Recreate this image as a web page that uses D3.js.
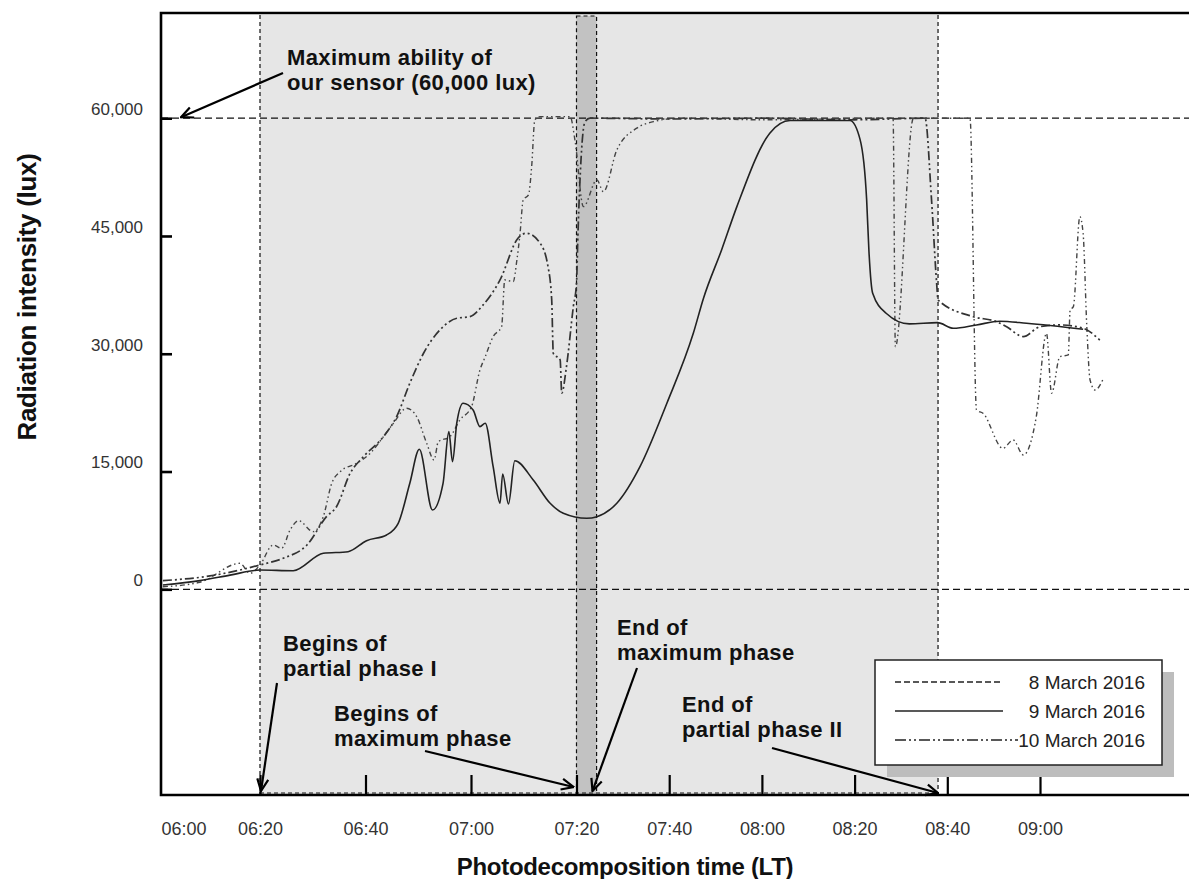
<!DOCTYPE html>
<html>
<head>
<meta charset="utf-8">
<script src="https://cdn.jsdelivr.net/npm/d3@7"></script>
<style>
  html, body { margin: 0; padding: 0; background: #fff; }
  svg { display: block; font-family: "Liberation Sans", Arial, sans-serif; }
</style>
</head>
<body>
<svg id="chart" width="1189" height="879"></svg>
<script>
// ---- Radiation intensity readings (lux), local time ----
const times8 = ["06:01:36","06:08:36","06:16:12","06:18:06","06:20:00","06:22:30","06:24:06","06:25:42","06:27:18","06:30:06","06:32:00","06:33:36","06:35:12","06:38:18","06:40:54","06:43:24","06:45:18","06:47:48","06:49:42","06:51:36","06:53:00","06:53:48","06:56:00","06:57:54","07:00:06","07:01:42","07:02:42","07:04:12","07:05:48","07:06:24","07:08:00","07:08:42","07:09:18","07:09:54","07:10:54","07:11:30","07:12:06","07:13:06","07:18:48","07:19:42","07:21:30","07:24:24","07:25:48","07:28:42","07:33:00","07:36:36","07:42:18","08:00:00","08:28:18","08:28:48","08:32:42","08:44:54","08:46:18","08:47:42","08:52:00","08:54:12","08:56:24","08:59:12","09:01:24","09:02:30","09:04:18","09:06:06","09:06:30","09:07:12","09:08:36","09:09:18","09:10:06","09:10:48","09:11:54","09:13:42"];
const lux8 = [330,900,3310,2040,3100,5640,5220,7550,8740,7340,9250,13500,14980,16050,17330,19440,21150,23060,21990,18600,16470,18800,19440,21570,23260,27940,29630,32180,33450,39400,39190,41950,45350,49600,50230,53840,59780,60200,60200,57240,48740,52140,50650,55960,58730,59570,60000,59800,60000,30900,60000,60000,22840,22420,17960,19020,17110,21990,32610,24970,29630,29850,35580,36000,47470,45350,33450,26660,25390,26880];

const times9 = ["06:01:36","06:08:36","06:14:18","06:20:00","06:26:18","06:32:00","06:36:42","06:40:12","06:44:00","06:46:12","06:48:24","06:50:12","06:52:42","06:54:42","06:55:48","06:56:30","06:57:18","06:58:30","07:00:24","07:01:42","07:02:42","07:04:12","07:05:30","07:06:00","07:07:06","07:08:18","07:11:48","07:15:00","07:17:30","07:22:12","07:24:24","07:28:42","07:33:42","07:39:30","07:45:12","07:47:24","07:51:18","07:54:36","08:01:42","08:06:06","08:19:00","08:21:12","08:22:36","08:23:06","08:23:54","08:26:48","08:31:48","08:37:54","08:41:18","08:46:18","08:51:18","08:57:06","09:09:18"];
const lux9 = [550,1100,1800,2460,2370,4590,4790,6190,6920,8400,13500,17830,10100,13500,20080,16260,21150,23700,22840,20720,21150,15620,10960,14690,10870,16380,13920,10960,9680,9040,9250,10960,15620,23700,32600,37070,43220,48740,58090,59700,59700,57240,49600,43000,37700,35160,33800,33960,33250,33670,34140,33890,33120];

const times10 = ["06:01:36","06:10:30","06:20:00","06:24:24","06:28:54","06:32:36","06:34:30","06:37:06","06:39:36","06:43:24","06:45:54","06:48:24","06:51:00","06:54:06","06:57:18","06:59:48","07:02:18","07:05:30","07:08:54","07:10:30","07:13:06","07:14:36","07:15:18","07:15:36","07:16:54","07:17:12","07:18:06","07:19:24","07:20:00","07:20:18","07:21:00","07:21:48","07:22:54","07:40:00","08:00:00","08:20:00","08:35:12","08:36:36","08:37:42","08:38:00","08:45:36","08:50:36","08:52:48","08:56:24","09:00:00","09:04:18","09:09:18","09:12:54"];
const lux10 = [1100,1700,3100,3950,5640,9250,10520,14780,16890,19440,21990,26240,30060,33030,34520,34720,36220,39400,44710,45350,44080,41100,36850,30060,29210,24970,28360,36000,38980,45000,55000,59500,60000,59900,60000,59800,60000,49600,38980,36850,34720,34090,33450,32180,33450,33670,33250,31750];

// ---- Axis ticks and eclipse phases ----
const xTickLabels = ["06:00","06:20","06:40","07:00","07:20","07:40","08:00","08:20","08:40","09:00"];
const yTickValues = [0, 15000, 30000, 45000, 60000];
const yDomain = [-26200, 73400];
const sensorLimit = 60000;
// partial phase I start, maximum phase start/end, partial phase II end
const phaseTimes = ["06:20:00", "07:20:00", "07:24:20", "08:38:00"];

const parseTime = s => d3.timeParse(s.length > 5 ? "%H:%M:%S" : "%H:%M")(s);

const svg = d3.select("#chart");
const frame = { left: 161, right: 1189, top: 13, bottom: 795 };

// The hour before 07:20 is drawn wider than the rest of the time axis.
const x = d3.scaleTime()
  .domain(["06:20", "07:20", "09:00"].map(parseTime))
  .range([260, 576.5, 1040]);
const y = d3.scaleLinear().domain(yDomain).range([frame.bottom, frame.top]);

const defs = svg.append("defs");
defs.append("clipPath").attr("id", "plot-clip")
  .append("rect")
  .attr("x", frame.left).attr("y", frame.top)
  .attr("width", frame.right - frame.left).attr("height", frame.bottom - frame.top);

defs.append("marker")
  .attr("id", "arrow")
  .attr("viewBox", "0 0 14 14")
  .attr("refX", 13).attr("refY", 7)
  .attr("markerWidth", 14).attr("markerHeight", 14)
  .attr("markerUnits", "userSpaceOnUse")
  .attr("orient", "auto")
  .append("path")
  .attr("d", "M1,1.5 L13,7 L1,12.5")
  .attr("fill", "none").attr("stroke", "#000").attr("stroke-width", 2.2);

// ---- Eclipse phase shading ----
const [pStart, mStart, mEnd, pEnd] = phaseTimes.map(parseTime);
const shade = svg.append("g");
shade.append("rect")
  .attr("x", x(pStart)).attr("y", frame.top + 2)
  .attr("width", x(pEnd) - x(pStart)).attr("height", frame.bottom - frame.top - 2)
  .attr("fill", "#e6e6e6");
shade.append("rect")
  .attr("x", x(mStart)).attr("y", frame.top + 3)
  .attr("width", x(mEnd) - x(mStart)).attr("height", frame.bottom - frame.top - 3)
  .attr("fill", "#c2c2c2")
  .attr("stroke", "#111").attr("stroke-width", 1.2).attr("stroke-dasharray", "4,3");

const boundary = svg.append("g")
  .attr("stroke", "#111").attr("stroke-width", 1.2).attr("stroke-dasharray", "4,3").attr("fill", "none");
[pStart, pEnd].forEach(t => {
  boundary.append("line")
    .attr("x1", x(t)).attr("x2", x(t))
    .attr("y1", frame.top + 2).attr("y2", frame.bottom);
});
boundary.append("line")
  .attr("x1", x(pStart)).attr("x2", x(pEnd))
  .attr("y1", frame.bottom - 2).attr("y2", frame.bottom - 2);

// ---- Zero and sensor-limit reference lines ----
svg.append("g")
  .selectAll("line")
  .data([0, sensorLimit])
  .join("line")
  .attr("x1", frame.left).attr("x2", frame.right)
  .attr("y1", d => y(d)).attr("y2", d => y(d))
  .attr("stroke", "#111").attr("stroke-width", 1.3).attr("stroke-dasharray", "7,4");

// ---- Series ----
const series = [
  { label: "8 March 2016",  times: times8,  lux: lux8,  color: "#444", width: 1.4, dash: "5,3,1.5,3,1.5,3", legendDash: "6,3" },
  { label: "10 March 2016", times: times10, lux: lux10, color: "#333", width: 1.7, dash: "9,3,2,3,2,3", legendDash: "11,3,2,3,2,3" },
  { label: "9 March 2016",  times: times9,  lux: lux9,  color: "#222", width: 1.6, dash: null, legendDash: null }
];

const line = d3.line()
  .x(d => x(d.t))
  .y(d => y(d.v))
  .curve(d3.curveMonotoneX);

const lines = svg.append("g").attr("clip-path", "url(#plot-clip)");
series.forEach(s => {
  const pts = s.times.map((t, i) => ({ t: parseTime(t), v: s.lux[i] }));
  lines.append("path")
    .datum(pts)
    .attr("d", line)
    .attr("fill", "none")
    .attr("stroke", s.color)
    .attr("stroke-width", s.width)
    .attr("stroke-dasharray", s.dash)
    .attr("stroke-linejoin", "round");
});

// ---- Frame ----
svg.append("path")
  .attr("d", `M${frame.right},${frame.top} H${frame.left} V${frame.bottom} H${frame.right}`)
  .attr("fill", "none").attr("stroke", "#000").attr("stroke-width", 2.6);

// ---- Axes ----
const xAxis = d3.axisBottom(x)
  .tickValues(xTickLabels.map(parseTime))
  .tickFormat(d3.timeFormat("%H:%M"))
  .tickSizeInner(-20).tickSizeOuter(0).tickPadding(27);
const gx = svg.append("g")
  .attr("transform", `translate(0,${frame.bottom})`)
  .call(xAxis);
gx.select(".domain").remove();
gx.selectAll(".tick line").attr("stroke", "#000").attr("stroke-width", 2.2);
gx.selectAll(".tick text")
  .attr("font-size", 18).attr("fill", "#333")
  .attr("font-family", "'Liberation Sans', Arial, sans-serif");
// the 06:00 label sits just inside the left axis, where the scale starts
gx.selectAll(".tick")
  .filter(d => x(d) < frame.left)
  .each(function (d) {
    const g = d3.select(this);
    g.select("line").remove();
    g.select("text").attr("text-anchor", "start").attr("x", frame.left - x(d));
  });

const yAxis = d3.axisLeft(y)
  .tickValues(yTickValues)
  .tickFormat(d3.format(","))
  .tickSizeInner(-11).tickSizeOuter(0).tickPadding(18);
const gy = svg.append("g")
  .attr("transform", `translate(${frame.left},0)`)
  .call(yAxis);
gy.select(".domain").remove();
gy.selectAll(".tick line").attr("stroke", "#000").attr("stroke-width", 2.6);
gy.selectAll(".tick text")
  .attr("font-size", 17).attr("fill", "#333").attr("y", -9)
  .attr("font-family", "'Liberation Sans', Arial, sans-serif");

// ---- Axis titles ----
svg.append("text")
  .attr("x", 625).attr("y", 875)
  .attr("text-anchor", "middle")
  .attr("font-size", 24).attr("font-weight", "bold").attr("fill", "#111")
  .attr("letter-spacing", "-0.3")
  .text("Photodecomposition time (LT)");

svg.append("text")
  .attr("transform", "translate(36,297) rotate(-90)")
  .attr("text-anchor", "middle")
  .attr("font-size", 26).attr("font-weight", "bold").attr("fill", "#111")
  .attr("letter-spacing", "-0.3")
  .text("Radiation intensity (lux)");

// ---- Annotations ----
const notes = svg.append("g")
  .attr("font-size", 22).attr("font-weight", "bold").attr("fill", "#111")
  .attr("letter-spacing", "0.4");

function note(lines, tx, ty, from, to) {
  const t = notes.append("text").attr("x", tx).attr("y", ty);
  lines.forEach((s, i) => {
    t.append("tspan").attr("x", tx).attr("dy", i === 0 ? 0 : 25).text(s);
  });
  notes.append("line")
    .attr("x1", from[0]).attr("y1", from[1])
    .attr("x2", to[0]).attr("y2", to[1])
    .attr("stroke", "#000").attr("stroke-width", 2.2)
    .attr("marker-end", "url(#arrow)");
}

note(["Maximum ability of", "our sensor (60,000 lux)"], 287, 65,
  [283, 73], [frame.left + 20, y(sensorLimit) - 1]);
note(["Begins of", "partial phase I"], 283, 651,
  [277, 683], [x(pStart) + 1, frame.bottom - 4]);
note(["Begins of", "maximum phase"], 334, 721,
  [425, 751], [x(mStart) - 3, frame.bottom - 8]);
note(["End of", "maximum phase"], 617, 635,
  [637, 668], [x(mStart) + 16, frame.bottom - 4]);
note(["End of", "partial phase II"], 682, 712,
  [772, 748], [x(pEnd), frame.bottom - 2]);

// ---- Legend ----
const legend = svg.append("g").attr("transform", "translate(875,660)");
legend.append("rect")
  .attr("x", 12).attr("y", 12).attr("width", 287).attr("height", 105)
  .attr("fill", "#bdbdbd");
legend.append("rect")
  .attr("x", 0).attr("y", 0).attr("width", 287).attr("height", 105)
  .attr("fill", "#fff").attr("stroke", "#222").attr("stroke-width", 1.5);

const legendOrder = ["8 March 2016", "9 March 2016", "10 March 2016"];
legendOrder.forEach((lab, i) => {
  const s = series.find(d => d.label === lab);
  const cy = 22 + i * 29;
  legend.append("line")
    .attr("x1", 20).attr("x2", i === 2 ? 143 : 128)
    .attr("y1", cy).attr("y2", cy)
    .attr("stroke", "#222").attr("stroke-width", 1.3)
    .attr("stroke-dasharray", s.legendDash);
  legend.append("text")
    .attr("x", 270).attr("y", cy).attr("dy", "0.36em")
    .attr("text-anchor", "end")
    .attr("font-size", 19).attr("fill", "#222")
    .text(lab);
});
</script>
</body>
</html>
